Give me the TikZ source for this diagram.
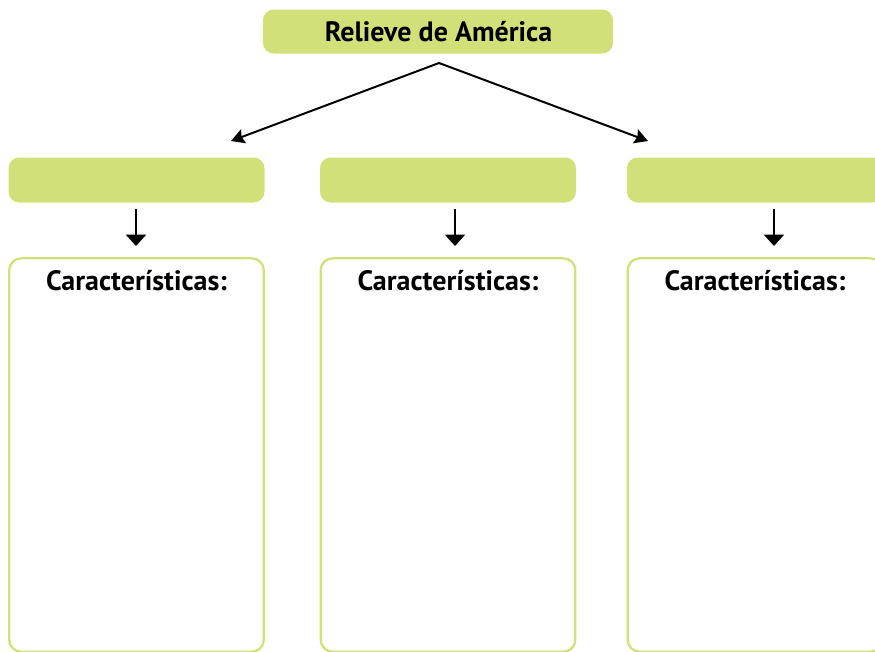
\documentclass[tikz,border=0pt]{standalone}
\usepackage{fontspec}
\setmainfont{PT Sans}
\usetikzlibrary{arrows.meta}
\definecolor{boxgreen}{RGB}{210,224,122}
\tikzset{
    titlebox/.style={fill=boxgreen, rounded corners=8pt, minimum width=262.5pt, minimum height=33pt, inner sep=0pt},
    fillbox/.style={fill=boxgreen, rounded corners=8pt, minimum width=192pt, minimum height=33.75pt, inner sep=0pt},
    outbox/.style={draw=boxgreen, line width=1.7pt, rounded corners=9pt, minimum width=191pt, minimum height=295pt, inner sep=0pt},
    headtext/.style={font=\bfseries\fontsize{21}{24}\selectfont, inner sep=0pt, anchor=base},
    conn/.style={line width=1.5pt, -{Stealth[length=10pt, width=11pt, inset=1.5pt]}},
    downconn/.style={line width=1.5pt, -{Triangle[length=8.5pt, width=15pt]}},
}
\newcommand\CatColumn[4]{%
    \node[fillbox] (cat#1) at (#2,180) {};
    \node[outbox] (car#1) at (#2,455) {};
    \node[headtext] (head#1) at (#2,290) {Características:};
    \coordinate (ArrowTop#1) at (#3,209);
    \coordinate (ArrowEnd#1) at (#3,#4);
    \draw[downconn] (ArrowTop#1) -- (ArrowEnd#1);
}

\begin{document}
\begin{tikzpicture}[x=0.75pt,y=-0.75pt]
    \useasboundingbox (0,0) rectangle (875,651);
    \clip (0,0) rectangle (875,651);
    % top title
    \node[titlebox] (title) at (438,31.5) {};
    \node[headtext] (titletext) at (438.5,41) {Relieve de América};
    \coordinate (Apex) at (439,63);
    \coordinate (LeftTip) at (231,141);
    \coordinate (RightTip) at (648,141);
    \draw[conn] (Apex) -- (LeftTip);
    \draw[conn] (Apex) -- (RightTip);
    % three columns
    \CatColumn{1}{136.5}{136}{246}
    \CatColumn{2}{448}{455}{246}
    \CatColumn{3}{755}{774}{246}
\end{tikzpicture}
\end{document}
